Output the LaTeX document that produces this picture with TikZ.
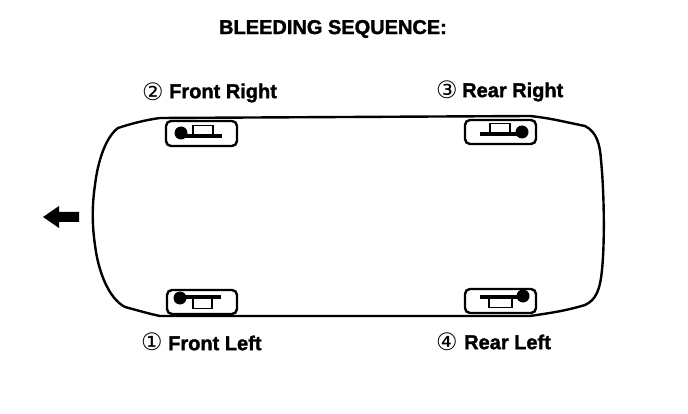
\documentclass[tikz,border=0pt]{standalone}
\usepackage{fontspec}
\setmainfont[BoldFeatures={FakeBold=1.6}]{Liberation Sans}
\newfontfamily\circfont{DejaVu Sans}
\usepackage{xcolor}
\usetikzlibrary{positioning}

\begin{document}
\begin{tikzpicture}[
  x=1pt, y=-1pt,
  bodyline/.style={line width=2.4pt, line join=round},
  wheelbox/.style={line width=2.4pt, rounded corners=5pt},
  caliper/.style={line width=1.8pt},
  titletext/.style={font=\fontsize{20}{22}\selectfont\bfseries, text=black, inner sep=0pt},
  seqtext/.style={font=\fontsize{20}{22}\selectfont\bfseries, text=black, inner sep=0pt, anchor=west},
  seqnum/.style={font=\fontsize{24}{26}\selectfont\circfont, text=black, inner sep=0pt},
]
  \useasboundingbox (0,0) rectangle (688,414);
  \fill[white] (0,0) rectangle (688,414);

  % -- Title --
  \node[titletext] (title) at (333,29) {BLEEDING SEQUENCE:};

  % -- Car body --
  \draw[bodyline] (160,118) -- (530,116)
    .. controls (550,118) and (565,122) .. (585,126)
    .. controls (597,132) and (600,145) .. (601,160)
    .. controls (604,190) and (605,240) .. (602,270)
    .. controls (600,290) and (596,300) .. (585,305)
    .. controls (565,311) and (550,313) .. (530,316)
    -- (160,316)
    .. controls (150,314) and (140,311) .. (125,307)
    .. controls (108,298) and (98,270) .. (95,245)
    .. controls (92,225) and (92,205) .. (95,185)
    .. controls (98,160) and (106,137) .. (118,128)
    .. controls (130,124) and (145,120) .. (160,118) -- cycle;

  % -- Direction arrow --
  \fill (43,217) -- (59,206) -- (59,212) -- (79,212) -- (79,222) -- (59,222) -- (59,228) -- cycle;

  % -- Front right --
  \draw[wheelbox] (166,121) rectangle (237,146);
  \fill (181,133) circle (6.5);
  \draw[caliper] (193,134) -- (193,125.5) -- (213,125.5) -- (213,134);
  \fill (182,134) rectangle (222,138);
  \node[seqnum] (numtwo) at (153,92) {②};
  \node[seqtext] (frontright) at (169,93) {Front Right};

  % -- Rear right --
  \draw[wheelbox] (465,120) rectangle (536,144);
  \fill (522,132) circle (6.5);
  \draw[caliper] (490,132) -- (490,123.5) -- (510,123.5) -- (510,132);
  \fill (480,132) rectangle (522,136);
  \node[seqnum] (numthree) at (447,90) {③};
  \node[seqtext] (rearright) at (462,92) {Rear Right};

  % -- Front left --
  \draw[wheelbox] (167,290) rectangle (237,314);
  \fill (180,298) circle (6.5);
  \fill (180,295) rectangle (221,299);
  \draw[caliper] (193,299) -- (193,308.5) -- (212,308.5) -- (212,299);
  \node[seqnum] (numone) at (152,342) {①};
  \node[seqtext] (frontleft) at (168,343) {Front Left};

  % -- Rear left --
  \draw[wheelbox] (465,289) rectangle (536,313);
  \fill (523,296) circle (6.5);
  \fill (480,294.5) rectangle (523,299);
  \draw[caliper] (489,299) -- (489,307.5) -- (512,307.5) -- (512,299);
  \node[seqnum] (numfour) at (447,342) {④};
  \node[seqtext] (rearleft) at (464,342) {Rear Left};
\end{tikzpicture}
\end{document}
